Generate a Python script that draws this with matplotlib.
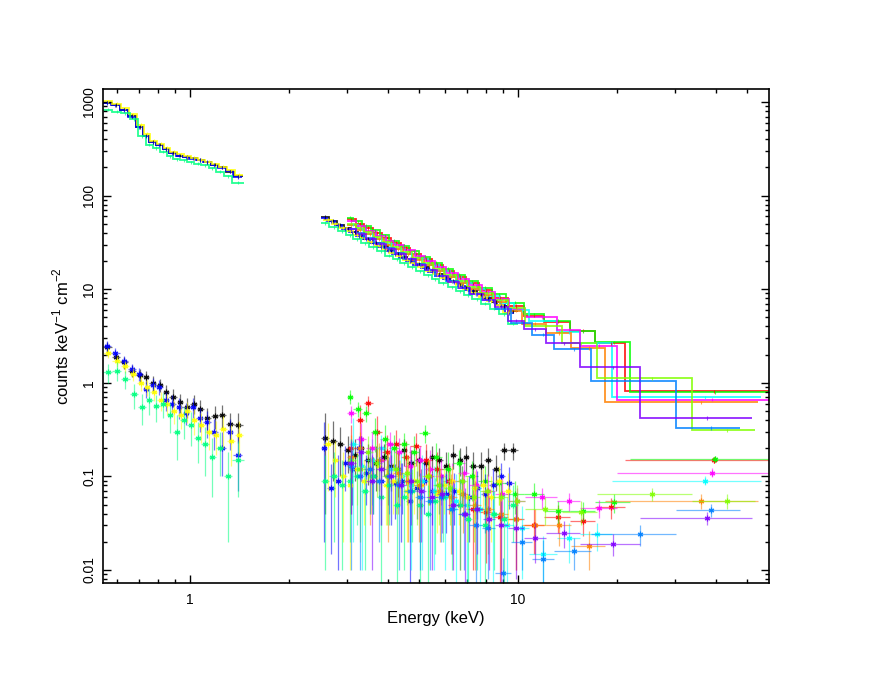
import numpy as np
import matplotlib.pyplot as plt
from matplotlib.ticker import FixedLocator, FixedFormatter, LogLocator, NullFormatter

plt.rcParams['font.family'] = ['Liberation Sans', 'DejaVu Sans']
plt.rcParams['mathtext.fontset'] = 'custom'
plt.rcParams['mathtext.rm'] = 'Liberation Sans'

# ---------------- soft band (0.55-1.45 keV), four detectors ----------------
black_lo_edges = [0.543, 0.577, 0.612, 0.649, 0.685, 0.72, 0.752, 0.79, 0.829, 0.865, 0.91, 0.955, 1.0, 1.05, 1.1, 1.16, 1.22, 1.29, 1.36, 1.45]
black_lo_model = [980, 930, 830, 710, 540, 435, 375, 350, 315, 285, 268, 258, 250, 240, 228, 214, 200, 180, 160]
black_lo_bkg = [2.4, 1.9, 1.65, 1.35, 1.2, 1.15, 1.0, 0.95, 0.8, 0.7, 0.62, 0.55, 0.6, 0.52, 0.42, 0.44, 0.45, 0.36, 0.35]
black_lo_err = [0.3, 0.25, 0.25, 0.2, 0.2, 0.18, 0.18, 0.16, 0.15, 0.15, 0.14, 0.13, 0.14, 0.13, 0.12, 0.12, 0.13, 0.12, 0.12]

blue_lo_edges = [0.543, 0.575, 0.61, 0.647, 0.683, 0.718, 0.75, 0.788, 0.826, 0.862, 0.905, 0.95, 0.995, 1.045, 1.095, 1.155, 1.215, 1.285, 1.355, 1.44]
blue_lo_model = [975, 925, 820, 700, 535, 430, 372, 348, 312, 282, 266, 256, 248, 241, 229, 212, 198, 182, 158]
blue_lo_bkg = [2.5, 2.1, 1.7, 1.4, 1.25, 0.85, 0.95, 0.9, 0.65, 0.6, 0.55, 0.48, 0.55, 0.42, 0.38, 0.3, 0.2, 0.3, 0.17]
blue_lo_err = [0.3, 0.25, 0.22, 0.2, 0.2, 0.17, 0.17, 0.16, 0.15, 0.14, 0.14, 0.13, 0.13, 0.12, 0.12, 0.11, 0.1, 0.11, 0.1]

yellow_lo_edges = [0.543, 0.58, 0.615, 0.652, 0.69, 0.724, 0.757, 0.795, 0.833, 0.87, 0.915, 0.96, 1.005, 1.055, 1.11, 1.17, 1.23, 1.3, 1.37, 1.45]
yellow_lo_model = [1020, 960, 860, 740, 570, 455, 385, 360, 322, 292, 275, 262, 252, 242, 230, 216, 203, 187, 166]
yellow_lo_bkg = [2.1, 1.7, 1.5, 1.25, 1.0, 0.9, 0.8, 0.65, 0.6, 0.5, 0.45, 0.5, 0.4, 0.35, 0.3, 0.28, 0.32, 0.24, 0.28]
yellow_lo_err = [0.28, 0.24, 0.22, 0.2, 0.18, 0.17, 0.16, 0.15, 0.15, 0.14, 0.13, 0.13, 0.12, 0.12, 0.11, 0.11, 0.12, 0.11, 0.11]

spring_lo_edges = [0.543, 0.58, 0.615, 0.655, 0.695, 0.735, 0.77, 0.81, 0.85, 0.89, 0.935, 0.98, 1.03, 1.08, 1.14, 1.2, 1.27, 1.34, 1.46]
spring_lo_model = [830, 790, 760, 660, 430, 350, 322, 295, 262, 245, 238, 228, 220, 210, 196, 180, 160, 138]
spring_lo_bkg = [1.3, 1.35, 1.1, 0.75, 0.55, 0.65, 0.56, 0.6, 0.45, 0.3, 0.4, 0.35, 0.26, 0.22, 0.16, 0.2, 0.1, 0.15]
spring_lo_err = [0.3, 0.3, 0.25, 0.22, 0.2, 0.2, 0.18, 0.18, 0.16, 0.15, 0.15, 0.14, 0.12, 0.12, 0.1, 0.1, 0.08, 0.09]

# ---------------- 2.5-10 keV, same four detectors ----------------
black_hi_edges = [2.5, 2.65, 2.8, 2.95, 3.1, 3.25, 3.4, 3.6, 3.8, 4.0, 4.2, 4.4, 4.6, 4.85, 5.1, 5.35, 5.6, 5.9, 6.2, 6.5, 6.8, 7.1, 7.5, 7.9, 8.3, 8.8, 9.3, 10.0]
black_hi_model = [59, 53.5, 48.7, 44.6, 41, 37.8, 34.6, 31.4, 28.6, 26.3, 24.2, 22.3, 20.5, 18.8, 17.2, 15.9, 14.6, 13.3, 12.3, 11.3, 10.5, 9.6, 8.8, 8.0, 7.3, 6.6, 5.8]
black_hi_bkg = [0.26, 0.24, 0.22, 0.19, 0.17, 0.2, 0.15, 0.14, 0.16, 0.13, 0.12, 0.19, 0.14, 0.15, 0.14, 0.16, 0.15, 0.13, 0.17, 0.15, 0.16, 0.13, 0.13, 0.15, 0.12, 0.19, 0.19]
black_hi_err = [0.22, 0.15, 0.12, 0.08, 0.08, 0.07, 0.07, 0.07, 0.06, 0.06, 0.06, 0.06, 0.05, 0.05, 0.05, 0.05, 0.05, 0.05, 0.05, 0.05, 0.05, 0.05, 0.05, 0.05, 0.05, 0.04, 0.04]

blue_hi_edges = [2.5, 2.62, 2.76, 2.9, 3.05, 3.2, 3.36, 3.53, 3.72, 3.92, 4.12, 4.33, 4.55, 4.8, 5.05, 5.3, 5.6, 5.9, 6.2, 6.55, 6.9, 7.3, 7.7, 8.15, 8.6, 9.1, 9.7]
blue_hi_model = [58, 53, 48.5, 44, 40.5, 37, 34, 31, 28.3, 25.8, 23.7, 21.8, 20, 18.3, 16.8, 15.4, 14, 12.9, 11.8, 10.8, 9.9, 9.0, 8.2, 7.4, 6.7, 5.5]
blue_hi_bkg = [0.2, 0.075, 0.09, 0.14, 0.12, 0.2, 0.11, 0.1, 0.09, 0.1, 0.085, 0.09, 0.055, 0.075, 0.09, 0.07, 0.08, 0.065, 0.07, 0.09, 0.06, 0.075, 0.065, 0.08, 0.1, 0.085]
blue_hi_err = [0.18, 0.06, 0.08, 0.07, 0.07, 0.07, 0.06, 0.06, 0.06, 0.05, 0.05, 0.05, 0.05, 0.04, 0.05, 0.04, 0.04, 0.04, 0.04, 0.04, 0.04, 0.04, 0.04, 0.04, 0.04, 0.04]

yellow_hi_edges = [2.55, 2.7, 2.85, 3.0, 3.15, 3.3, 3.48, 3.66, 3.85, 4.05, 4.25, 4.47, 4.7, 4.95, 5.2, 5.5, 5.8, 6.1, 6.45, 6.8, 7.2, 7.6, 8.05, 8.5, 9.0, 9.6]
yellow_hi_model = [55, 50, 45.5, 41.5, 38, 35, 32, 29.2, 26.7, 24.5, 22.4, 20.6, 18.9, 17.3, 15.8, 14.4, 13.2, 12, 11, 10, 9.1, 8.3, 7.5, 6.8, 5.6]
yellow_hi_bkg = [0.22, 0.15, 0.1, 0.08, 0.12, 0.09, 0.1, 0.13, 0.08, 0.09, 0.1, 0.07, 0.09, 0.08, 0.1, 0.065, 0.08, 0.09, 0.07, 0.06, 0.075, 0.08, 0.06, 0.09, 0.07]
yellow_hi_err = [0.15, 0.09, 0.08, 0.07, 0.07, 0.06, 0.06, 0.07, 0.05, 0.05, 0.05, 0.05, 0.05, 0.04, 0.05, 0.04, 0.04, 0.04, 0.04, 0.04, 0.04, 0.04, 0.04, 0.04, 0.04]

spring_hi_edges = [2.5, 2.66, 2.82, 2.98, 3.15, 3.33, 3.52, 3.72, 3.93, 4.15, 4.38, 4.62, 4.88, 5.15, 5.45, 5.75, 6.1, 6.45, 6.85, 7.25, 7.7, 8.2, 8.75, 9.35, 10.0]
spring_hi_model = [51, 46, 41.5, 37.5, 34, 31, 28, 25.3, 22.9, 20.8, 18.9, 17.2, 15.6, 14.1, 12.8, 11.6, 10.5, 9.5, 8.6, 7.8, 7.0, 6.2, 5.4, 4.3]
spring_hi_bkg = [0.09, 0.1, 0.08, 0.09, 0.1, 0.07, 0.1, 0.06, 0.08, 0.05, 0.06, 0.07, 0.05, 0.04, 0.055, 0.06, 0.045, 0.05, 0.035, 0.045, 0.03, 0.04, 0.035, 0.05]
spring_hi_err = [0.08, 0.08, 0.07, 0.07, 0.07, 0.06, 0.06, 0.055, 0.05, 0.045, 0.05, 0.05, 0.045, 0.04, 0.04, 0.04, 0.035, 0.04, 0.03, 0.035, 0.03, 0.03, 0.03, 0.03]

# ---------------- hard band (3-58 keV), eight spectra ----------------
red_edges = [3.0, 3.2, 3.4, 3.6, 3.85, 4.1, 4.4, 4.7, 5.05, 5.45, 5.9, 6.4, 6.95, 7.6, 8.35, 9.3, 10.4, 12.0, 14.4, 17.2, 21.2, 58.0]
red_model = [56, 50, 45, 40, 35.5, 31.5, 27.5, 24, 21, 18.2, 15.8, 13.5, 11.6, 9.8, 8.1, 6.6, 5.2, 4.5, 3.6, 2.65, 0.81]
red_bkg = [0.2, 0.4, 0.61, 0.3, 0.18, 0.22, 0.16, 0.21, 0.15, 0.12, 0.09, 0.05, 0.045, 0.042, 0.037, 0.035, 0.03, 0.037, 0.033, 0.047, 0.15]
red_err = [0.15, 0.18, 0.12, 0.14, 0.1, 0.09, 0.08, 0.08, 0.07, 0.06, 0.05, 0.04, 0.035, 0.03, 0.03, 0.025, 0.015, 0.012, 0.01, 0.012, 0.012]

green_edges = [3.0, 3.15, 3.35, 3.55, 3.8, 4.05, 4.35, 4.65, 5.0, 5.4, 5.85, 6.35, 6.9, 7.55, 8.3, 9.2, 10.4, 12.0, 14.4, 17.2, 21.9, 58.0]
green_model = [58, 53, 47.5, 42.5, 37.5, 33, 29, 25.5, 22.2, 19.2, 16.5, 14.2, 12.2, 10.4, 8.8, 7.2, 5.4, 4.6, 3.55, 2.7, 0.8]
green_bkg = [0.71, 0.53, 0.47, 0.3, 0.25, 0.2, 0.22, 0.18, 0.29, 0.16, 0.12, 0.14, 0.1, 0.09, 0.085, 0.065, 0.065, 0.043, 0.043, 0.053, 0.155]
green_err = [0.12, 0.1, 0.09, 0.12, 0.1, 0.08, 0.07, 0.09, 0.06, 0.07, 0.06, 0.05, 0.045, 0.04, 0.035, 0.025, 0.02, 0.012, 0.01, 0.012, 0.012]

cyan_edges = [3.05, 3.25, 3.45, 3.7, 3.95, 4.25, 4.55, 4.9, 5.3, 5.75, 6.2, 6.7, 7.3, 8.0, 8.8, 9.7, 10.8, 13.1, 15.4, 19.3, 55.2]
cyan_model = [49, 43.5, 39, 34.5, 30.5, 27, 23.8, 20.8, 18, 15.5, 13.4, 11.6, 10.0, 8.5, 7.2, 6.0, 4.6, 3.5, 2.65, 0.7]
cyan_bkg = [0.22, 0.13, 0.15, 0.2, 0.12, 0.1, 0.08, 0.09, 0.07, 0.06, 0.055, 0.05, 0.045, 0.04, 0.03, 0.028, 0.015, 0.022, 0.024, 0.09]
cyan_err = [0.2, 0.12, 0.1, 0.08, 0.09, 0.08, 0.07, 0.08, 0.06, 0.05, 0.05, 0.045, 0.04, 0.035, 0.03, 0.02, 0.008, 0.01, 0.008, 0.01]

magenta_edges = [3.0, 3.2, 3.45, 3.7, 3.95, 4.2, 4.5, 4.85, 5.2, 5.6, 6.05, 6.55, 7.1, 7.75, 8.5, 9.4, 10.5, 13.1, 15.4, 20.0, 58.0]
magenta_model = [53, 47, 41.5, 37, 33, 29.5, 26, 22.6, 19.8, 17.2, 14.8, 12.8, 11.0, 9.4, 7.9, 6.2, 5.0, 3.7, 2.5, 0.66]
magenta_bkg = [0.47, 0.25, 0.2, 0.15, 0.22, 0.18, 0.13, 0.15, 0.12, 0.1, 0.09, 0.11, 0.08, 0.07, 0.065, 0.055, 0.06, 0.055, 0.046, 0.11]
magenta_err = [0.1, 0.12, 0.1, 0.1, 0.08, 0.08, 0.08, 0.06, 0.07, 0.05, 0.05, 0.04, 0.04, 0.035, 0.03, 0.02, 0.015, 0.012, 0.01, 0.012]

orange_edges = [3.0, 3.2, 3.4, 3.65, 3.9, 4.15, 4.45, 4.8, 5.15, 5.55, 6.0, 6.5, 7.05, 7.7, 8.45, 9.35, 10.3, 12.2, 14.5, 18.4, 54.0]
orange_model = [48, 43, 38.5, 34, 30, 26.8, 23.6, 20.6, 18, 15.6, 13.5, 11.6, 10.0, 8.6, 7.3, 5.9, 4.3, 3.4, 2.35, 0.62]
orange_bkg = [0.16, 0.2, 0.12, 0.15, 0.1, 0.11, 0.09, 0.08, 0.1, 0.07, 0.06, 0.065, 0.05, 0.045, 0.04, 0.035, 0.03, 0.03, 0.018, 0.055]
orange_err = [0.12, 0.1, 0.09, 0.08, 0.08, 0.07, 0.07, 0.06, 0.05, 0.05, 0.045, 0.04, 0.04, 0.03, 0.03, 0.025, 0.015, 0.012, 0.008, 0.01]

chart_edges = [3.0, 3.2, 3.4, 3.6, 3.85, 4.1, 4.4, 4.75, 5.1, 5.5, 5.95, 6.45, 7.0, 7.65, 8.4, 9.3, 10.5, 13.6, 17.4, 33.8, 52.9]
chart_model = [50, 45, 40.5, 36, 32, 28.5, 25, 21.8, 19, 16.5, 14.2, 12.3, 10.6, 9.1, 7.7, 6.3, 4.0, 2.65, 1.12, 0.31]
chart_bkg = [0.15, 0.12, 0.18, 0.14, 0.1, 0.12, 0.11, 0.09, 0.1, 0.08, 0.075, 0.09, 0.06, 0.07, 0.06, 0.055, 0.045, 0.042, 0.065, 0.055]
chart_err = [0.1, 0.1, 0.09, 0.08, 0.07, 0.08, 0.06, 0.06, 0.05, 0.05, 0.045, 0.04, 0.04, 0.035, 0.03, 0.025, 0.015, 0.012, 0.01, 0.01]

azure_edges = [3.0, 3.2, 3.4, 3.65, 3.9, 4.2, 4.5, 4.85, 5.2, 5.6, 6.05, 6.55, 7.1, 7.75, 8.5, 9.5, 11.0, 12.9, 16.7, 30.3, 47.4]
azure_model = [44, 39.5, 35, 31, 27.5, 24.2, 21.2, 18.5, 16.2, 14, 12.1, 10.4, 8.9, 7.6, 6.2, 4.4, 3.26, 2.29, 1.05, 0.33]
azure_bkg = [0.13, 0.1, 0.12, 0.09, 0.1, 0.08, 0.07, 0.06, 0.055, 0.06, 0.045, 0.04, 0.03, 0.028, 0.0093, 0.02, 0.013, 0.016, 0.024, 0.044]
azure_err = [0.12, 0.09, 0.08, 0.07, 0.06, 0.07, 0.05, 0.05, 0.045, 0.04, 0.03, 0.03, 0.025, 0.02, 0.004, 0.01, 0.008, 0.006, 0.006, 0.007]

violet_edges = [3.0, 3.2, 3.45, 3.7, 3.95, 4.25, 4.55, 4.9, 5.25, 5.65, 6.1, 6.6, 7.15, 7.8, 8.5, 9.3, 10.4, 12.2, 15.4, 23.5, 51.8]
violet_model = [44, 39, 34.5, 30.5, 27, 23.8, 21, 18.3, 16, 13.9, 12, 10.3, 8.9, 7.6, 6.4, 4.6, 3.74, 2.65, 1.46, 0.42]
violet_bkg = [0.14, 0.18, 0.09, 0.12, 0.1, 0.08, 0.09, 0.07, 0.06, 0.065, 0.05, 0.04, 0.045, 0.035, 0.03, 0.028, 0.022, 0.025, 0.019, 0.036]
violet_err = [0.1, 0.09, 0.08, 0.09, 0.07, 0.06, 0.06, 0.05, 0.05, 0.04, 0.04, 0.035, 0.03, 0.025, 0.025, 0.02, 0.01, 0.008, 0.005, 0.006]

# axis ticks
x_ticks = [1, 10]
x_ticklabels = ['1', '10']
y_ticks = [0.01, 0.1, 1, 10, 100, 1000]
y_ticklabels = ['0.01', '0.1', '1', '10', '100', '1000']

# xspec-style colour indices
c_black, c_red, c_green, c_blue = '#000000', '#ff0000', '#00ff00', '#0000ff'
c_cyan, c_magenta, c_yellow, c_orange = '#00ffff', '#ff00ff', '#ffff00', '#ff8000'
c_chart, c_spring, c_azure, c_violet = '#80ff00', '#00ff80', '#0080ff', '#8000ff'

# plot order follows the data group numbers (later groups on top)
groups = [
    (c_black, [(black_lo_edges, black_lo_model, black_lo_bkg, black_lo_err),
               (black_hi_edges, black_hi_model, black_hi_bkg, black_hi_err)]),
    (c_red, [(red_edges, red_model, red_bkg, red_err)]),
    (c_green, [(green_edges, green_model, green_bkg, green_err)]),
    (c_blue, [(blue_lo_edges, blue_lo_model, blue_lo_bkg, blue_lo_err),
              (blue_hi_edges, blue_hi_model, blue_hi_bkg, blue_hi_err)]),
    (c_cyan, [(cyan_edges, cyan_model, cyan_bkg, cyan_err)]),
    (c_magenta, [(magenta_edges, magenta_model, magenta_bkg, magenta_err)]),
    (c_yellow, [(yellow_lo_edges, yellow_lo_model, yellow_lo_bkg, yellow_lo_err),
                (yellow_hi_edges, yellow_hi_model, yellow_hi_bkg, yellow_hi_err)]),
    (c_orange, [(orange_edges, orange_model, orange_bkg, orange_err)]),
    (c_chart, [(chart_edges, chart_model, chart_bkg, chart_err)]),
    (c_spring, [(spring_lo_edges, spring_lo_model, spring_lo_bkg, spring_lo_err),
                (spring_hi_edges, spring_hi_model, spring_hi_bkg, spring_hi_err)]),
    (c_azure, [(azure_edges, azure_model, azure_bkg, azure_err)]),
    (c_violet, [(violet_edges, violet_model, violet_bkg, violet_err)]),
]

fig = plt.figure(figsize=(8.72, 6.74), dpi=100)
ax = fig.add_axes([103 / 872, 91 / 674, 666 / 872, 494 / 674])
ax.set_xscale('log')
ax.set_yscale('log')

for color, parts in groups:
    for edges, model, bkg, err in parts:
        edges = np.asarray(edges, dtype=float)
        model = np.asarray(model, dtype=float)
        bkg = np.asarray(bkg, dtype=float)
        err = np.asarray(err, dtype=float)
        mid = 0.5 * (edges[:-1] + edges[1:])
        half = 0.5 * (edges[1:] - edges[:-1])

        # folded model as a histogram
        ax.stairs(model, edges, baseline=None, color=color, lw=1.3, alpha=0.85)
        # tiny data error bars sitting on the model
        ax.errorbar(mid, model, yerr=0.04 * model, fmt='none', ecolor=color,
                    elinewidth=0.8, alpha=0.7)

        # background spectrum as crosses
        lo = np.maximum(bkg - err, 1e-4)
        ax.errorbar(mid, bkg, xerr=half, yerr=[bkg - lo, err], fmt='none',
                    ecolor=color, elinewidth=0.9, alpha=0.55)
        ax.plot(mid, bkg, ls='none', marker=(6, 2, 0), ms=4, mew=0.9,
                color=color, alpha=0.9)

ax.set_xlim(0.543, 58.2)
ax.set_ylim(0.00726, 1377)

ax.xaxis.set_major_locator(FixedLocator(x_ticks))
ax.xaxis.set_major_formatter(FixedFormatter(x_ticklabels))
ax.xaxis.set_minor_locator(LogLocator(base=10, subs=np.arange(2, 10)))
ax.xaxis.set_minor_formatter(NullFormatter())
ax.yaxis.set_major_locator(FixedLocator(y_ticks))
ax.yaxis.set_major_formatter(FixedFormatter(y_ticklabels))
ax.yaxis.set_minor_locator(LogLocator(base=10, subs=np.arange(2, 10)))
ax.yaxis.set_minor_formatter(NullFormatter())

ax.tick_params(which='both', direction='in', top=True, right=True, width=1.0)
ax.tick_params(which='major', length=6, labelsize=10)
ax.tick_params(which='minor', length=3)
ax.tick_params(axis='x', which='major', pad=7)
ax.tick_params(axis='y', which='major', pad=5)
for lab in ax.get_yticklabels():
    lab.set_rotation(90)
    lab.set_va('center')
for sp in ax.spines.values():
    sp.set_linewidth(1.2)

ax.set_xlabel('Energy (keV)', fontsize=12, labelpad=3)
ax.set_ylabel(r'counts keV$^{-1}$ cm$^{-2}$', fontsize=12, labelpad=8)

fig.savefig('out.png', dpi=100)
